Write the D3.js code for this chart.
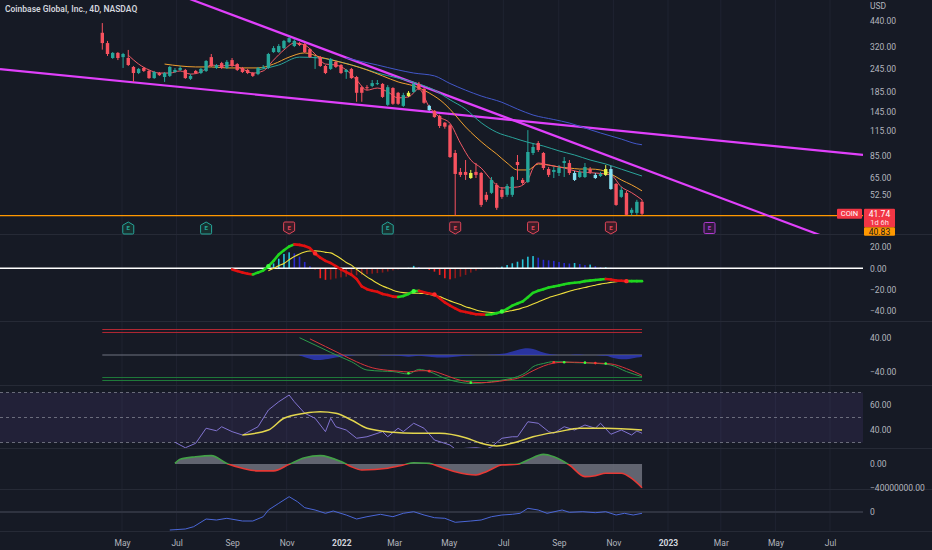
<!DOCTYPE html>
<html>
<head>
<meta charset="utf-8">
<script src="https://cdn.jsdelivr.net/npm/d3@7.9.0/dist/d3.min.js"></script>
<style>
  html, body { margin: 0; padding: 0; background: #161a25; }
  svg { display: block; font-family: Roboto, "Noto Sans", sans-serif; }
</style>
</head>
<body>
<div class="container"></div>
<script>
// ---------- data ----------
const chartTitle = "Coinbase Global, Inc., 4D, NASDAQ";
const firstBarDate = new Date(2021, 3, 9);
const lastBarDate = new Date(2022, 11, 3);

const barOpen = [381,336,280,298,283,280,251,233,248,239, 219,233,222,225,236,242,242,217,239,233,
  239,283,248,263,248,273,260,248,242,233, 230,248,248,301,301,316,340,324,336,332,
  312,280,283,254,245,267,257,236,245,222, 196,196,199,204,204,158,194,183,156,176,
  185,204,192,148,147,138,127,123,87.7,69.6, 69.6,64.6,69.6,68.7,52.6,53.9,59.4,55.9,52.6,52.6,
  78.6,63.1,61.6,87.7,99.1,87.7,72.1,69.6,68.7,77.6, 77.6,63.1,65.4,65.4,72.1,64.6,66.2,67.1,72.1,60.1,
  51.3,53.9,42.2,42.2,48.3];
const barHigh = [429,345,301,301,298,309,254,248,251,242, 239,236,236,254,248,254,245,230,242,248,
  273,294,260,267,273,280,263,251,245,236, 251,257,298,324,332,349,362,353,340,336,
  316,287,287,257,280,270,260,245,248,225, 199,201,214,214,206,201,196,185,183,187,
  209,209,194,158,148,140,128,125,91,73, 80.5,71.3,77.6,69.6,54.5,65.4,60.8,57.9,60.1,66.2,
  85.6,64.6,116,99.1,101.5,88.8,73.9,73.9,75.7,83.5, 80.5,70.4,71.3,77.6,73.9,68.7,69.6,75.7,74.8,60.8,
  57.9,55.2,44.9,49.5,49.5];
const barLow = [310,287,277,273,248,254,209,230,236,217, 217,225,209,222,233,239,217,214,230,230,
  236,251,245,245,245,251,239,233,230,222, 227,245,245,298,298,312,336,320,324,298,
  280,245,251,230,242,248,230,217,217,164, 164,189,196,201,172,156,158,158,154,174,
  183,189,160,147,135,119,118,82.5,40.83,65.4, 63.1,63.9,64.6,45.4,48.3,53.2,43.8,50.1,51.3,51.3,
  63.1,59.4,60.8,85.6,88.8,71.3,65.4,64.6,66.2,65.4, 67.1,62.3,64.6,64.6,67.9,63.9,65.4,66.2,55.9,46.0,
  50.7,40.9,40.9,41.2,40.9];
const barClose = [336,294,298,280,294,257,233,245,239,219, 236,227,233,251,242,248,219,225,233,245,
  270,254,257,248,267,254,242,236,233,225, 248,251,294,316,324,345,357,345,328,301,
  283,283,254,233,277,251,233,242,219,183, 183,194,206,206,174,196,160,160,178,183,
  204,192,162,156,136,122,121,83.5,67.9,67.1, 67.1,68.7,67.1,46.5,49.5,63.1,44.9,51.3,58.6,65.4,
  75.7,60.8,88.8,94.4,91,73,67.1,71.3,73,79.5, 68.7,68.7,69.6,73.9,69.6,67.1,67.9,72.1,56.5,46.5,
  55.9,41.2,43.8,48.3,41.74];
const yellowBars = [59, 71, 97];
const cyanBars = [63, 91, 95, 98];

// moving averages on the price pane: [bar index, price]
const maFast = [[5,290],[7,260],[9,242],[11,233],[13,233],[15,239],[17,230],[19,236],[21,257],[23,254],
  [25,257],[27,245],[29,233],[31,239],[33,273],[35,309],[37,336],[39,328],[41,294],[43,260],[45,257],
  [47,242],[49,214],[51,189],[53,194],[55,185],[57,172],[59,174],[61,192],[63,154],[65,136],[67,126],
  [69,99],[71,80.5],[73,73],[75,63],[77,57.2],[80,57.9],[82,63],[83,73],[84,77.6],[86,75.7],[89,73],
  [92,69.6],[95,68.7],[98,67],[100,58],[102,54],[104,49.5]];
const maMid = [[12,260],[15,254],[18,251],[21,251],[24,248],[27,248],[30,248],[33,260],[36,283],[39,298],
  [42,283],[45,270],[48,257],[51,242],[54,225],[57,209],[60,199],[63,182.5],[66,159.6],[68,139.5],
  [70,120.5],[72,106.6],[74,95.5],[76,86.6],[78,77.6],[80,71.3],[82,71.3],[84,76.7],[86,75.7],[88,73.9],
  [90,73],[92,72.1],[94,72.1],[96,71.3],[98,67.9],[100,63.1],[102,59.4],[104,55.2]];
const maSlow = [[30,242],[34,257],[38,283],[42,280],[46,266],[50,248],[53,233],[57,219],[61,204],[64,189],
  [67,168],[70,150],[73,127],[76,113],[79,106],[82,100],[85,95.5],[88,90],[91,85.6],[94,80.5],[97,76.7],
  [100,72],[104,66.2]];
const maLong = [[47,280],[50,268],[53,257],[57,242],[60,233],[64,225],[67,205],[70,189],[73,176],[77,163],
  [80,150],[83,139.5],[87,132],[90,126.5],[93,119],[96,112],[100,104],[103,98],[104,97]];

// drawn lines: [date, price]
const upperTrend = [[new Date(2021, 10, 2), 368], [new Date(2022, 9, 30), 83.5]];
const lowerTrend = [[new Date(2021, 4, 30), 204.4], [new Date(2023, 2, 14), 100.4]];
const supportPrice = 40.83;
const lastPrice = 41.74;
const countdown = "1d 6h";

// earnings flags: bar index and result
const earningsBars = [5, 20, 36, 55, 68, 83, 98, 117];
const earningsKind = ["beat", "beat", "miss", "beat", "miss", "miss", "miss", "next"];

// MACD pane
const macdStart = 25;
const macdLine = [-1,-2.5,-4,-5,-5.7,-4,-2,2,7,13, 17,20.5,22.5,22,21,19,14,10,7,5,
  2,-1,-3.5,-6,-10,-17,-19.5,-21,-22,-24, -25,-26.5,-26.8,-26,-24,-21.5,-21,-22.5,-23.5,-24.5,
  -28,-32,-35,-37.5,-40,-41,-42,-43,-43.2,-43.5, -43,-42,-40.5,-38,-35,-33,-31,-27,-23,-21,
  -19.5,-18,-17,-16,-15,-14,-13.5,-13,-12,-11.5, -11,-10.5,-10,-10.5,-11.5,-11.7,-12,-12,-12,-12];
const signalStart = 32;
const signalLine = [-2.3,0,2.5,4.6,8,11,13.5,15.3,16.2,16.4, 16,15,14.5,12,9,5.5,3,-1,-4.5,-8,
  -11,-14,-16.5,-18.5,-20.5,-22,-22.8,-23.2,-23.3,-23.4, -23.6,-24.5,-25.5,-26.5,-28.5,-30.5,-32.2,-34,-36,-37.4,
  -39,-40.2,-41,-41.4,-41.5,-41.2,-40.5,-39.5,-38.5,-37, -35.5,-33.5,-31.5,-29.5,-27.5,-26,-24.5,-23,-21.5,-20,
  -19,-18,-16.8,-15.8,-14.8,-14,-13.2,-12.6,-12,-11.8, -11.8,-12,-12];
const histStart = 33;
const macdHist = [4.6,9,13.5,15,14,11,6,2,-1,-9.3, -10.8,-10.5,-9.5,-8.5,-7.8,-7,-6.5,-6,-5.5,-5,
  -4.5,-4,-3,-2,-1,-0.3,0.5,2.3,1,-0.5, -1.5,-3.1,-6.2,-9.3,-10.3,-9.3,-7.8,-6.2,-4,-2.2,
  -1,-0.5,-0.2,0.5,1.6,3.1,4.7,6.2,8.4,10.9, 11.5,10,8,7.5,7,6,5,4.5,5,4,
  3,3.5,2,1,1,0.5,0,-0.2,-0.3,-0.2, -0.1,-0.1];
const macdCrosses = [[32, "up"], [41, "down"], [60, "up"], [64, "down"], [77, "up"], [101, "down"]];

// WaveTrend pane
const wtLevels = [60, 53, 0, -53, -60];
const wt1 = [[38,40.7],[41,23.5],[44,6],[46,-5],[48,-15.7],[51,-35.3],[54,-38],[56,-39],[59,-44.7],[61,-33.7],
  [63,-39],[66,-55],[68,-62],[71,-66.7],[73,-66],[75,-62.7],[78,-57],[80,-51],[82,-38],[83,-27.5],
  [85,-20],[87,-15.7],[89,-16],[91,-18],[93,-18.5],[95,-19.6],[98,-23.5],[101,-39],[104,-51]];
const wt2 = [[40,38],[43,20],[46,2],[49,-16],[52,-30],[55,-36],[57,-38],[59,-40],[61,-37],[63,-37],
  [66,-47],[68,-56],[70,-62],[73,-65],[75,-64],[78,-59],[80,-55],[83,-37],[85,-26],[87,-19],
  [89,-17],[91,-17],[93,-18],[95,-19],[98,-21],[101,-32],[104,-48]];
const wtDiffStart = 38;
const wtDiff = [-2,-5,-9,-12,-12,-10,-8,-6,-4,-2, -1,0,0,0,0,0,-1,-1,-1,-2,
  -3,-4,-3,-2,-3,-4,-5,-6,-6,-5, -4,-3,-2,-1,0,0,0,1,2,3,
  5,8,12,15,16,14,10,6,3,1, 0,0,0,1,1,0,0,0,-1,-2, -5,-8,-10,-10,-8,-6,-4];
const wtDots = [[59,-43,"up"],[63,-38,"down"],[71,-65,"up"],[87,-17,"down"],[89,-17,"up"],[93,-18,"up"],[95,-19,"down"],[97,-20,"up"]];

// RSI pane
const rsiBand = [70, 50, 30];
const rsi = [[14,30.2],[16,25.8],[18,29.4],[20,41.4],[22,39.4],[23,42.6],[25,38.7],[27,36],[30,42.6],[32,56],
  [34,62.6],[36,68],[37,62.6],[39,53.4],[41,49.4],[43,38.7],[44,49.4],[45,42.6],[47,40],[49,33.4],
  [51,34.6],[54,38.7],[55,34.6],[57,41.4],[58,38.7],[60,45.4],[62,41.4],[64,32],[67,28],[68,24.8],
  [72,25.8],[74,24.8],[75,26.6],[77,33.4],[79,34.6],[80,34.6],[82,46.6],[84,45.4],[86,38.7],[87,37.4],
  [89,42.6],[91,40],[93,44],[95,41.4],[96,45.4],[98,36.6],[100,40],[102,36],[103,39.2],[104,37.4]];
const rsiMa = [[27,36],[32,40],[35,49.4],[39,53.4],[42,54.6],[45,53.4],[48,48],[51,41.4],[56,38.2],[60,37.4],
  [65,37.4],[70,33.8],[73,29.4],[76,27.2],[80,30.6],[83,34.6],[88,38.7],[92,41.4],[97,41.4],[104,40]];

// money-flow pane (millions)
const flowMillions = [[14,1],[15,8],[18,12],[21,14],[24,1],[27,-7],[30,-11.5],[33,-11.5],[36,-0.5],[39,10.5],
  [42,14],[46,4],[48,-4.5],[50,-10],[55,-7],[58,-1.7],[60,2],[63,1],[65,-4.5],[68,-12.8],
  [72,-18.3],[74,-12.8],[77,-1.7],[80,-0.5],[82,6.7],[85,16],[87,12],[90,-1.7],[93,-21],[95,-19.5],
  [97,-15.5],[100,-15.5],[102,-24],[104,-39.5]];

// bottom oscillator pane
const lowerOsc = [[13,-18],[16,-17],[17.6,-14.7],[20,-7],[22,-8],[24,-6.3],[27,-9],[29,-9],[31,-4.7],[32,2],
  [34,8.7],[36,15.3],[37.6,10.3],[39,4.3],[41,2],[43,-1.3],[44.5,1],[47,-3],[49,-7],[51,-4.7],
  [53.6,-2.3],[56,-4.7],[58,-1.3],[60,0.3],[62,-3],[64,-5.7],[66,-6.3],[68,-10.3],[71,-9],[73,-8],
  [75,-4.7],[77,-3],[79,-2.3],[80.5,-1.3],[82,3.7],[84,2],[85.7,-1.3],[88.6,2],[90,-0.3],[92.6,0.3],
  [95,-0.7],[97,0.3],[99,-3],[100.6,-1.3],[102.3,-3],[104,-1.3]];

// axes
const monthTicks = ["2021-05-01","2021-07-01","2021-09-01","2021-11-01","2022-01-01","2022-03-01","2022-05-01",
  "2022-07-01","2022-09-01","2022-11-01","2023-01-01","2023-03-01","2023-05-01","2023-07-01"];
const priceTicks = [440, 320, 245, 185, 145, 115, 85, 65, 52.5];
const macdTicks = [20, 0, -20, -40];
const wtTicks = [40, -40];
const rsiTicks = [60, 40];
const flowTicks = [0, -40000000];
const oscTicks = [0];

// ---------- drawing ----------
const W = 932, H = 550, plotRight = 863;
const bg = "#161a25";
const green = "#26a69a", red = "#f7525f";

const svg = d3.select(".container").append("svg")
  .attr("width", W).attr("height", H);
svg.append("rect").attr("width", W).attr("height", H).attr("fill", bg);

const parseDay = d3.timeParse("%Y-%m-%d");
const tickDates = monthTicks.map(parseDay);

const xTime = d3.scaleTime()
  .domain([new Date(2021, 4, 1), new Date(2023, 6, 1)])
  .range([122, 830]);
const N = barClose.length;
const xBar = d3.scaleLinear().domain([0, N - 1]).range([xTime(firstBarDate), xTime(lastBarDate)]);

const yPrice = d3.scaleLog().domain([440, 52.5]).range([21, 195]);
const yMacd = d3.scaleLinear().domain([20, -40]).range([247, 311]);
const yWt = d3.scaleLinear().domain([40, -40]).range([338, 372]);
const yRsi = d3.scaleLinear().domain([60, 40]).range([405, 430]);
const yFlow = d3.scaleLinear().domain([0, -40000000]).range([464, 488]);
const yOsc = d3.scaleLinear().domain([0, -10]).range([512, 522]);

const paneBounds = [[0, 234], [235, 321], [322, 385], [386, 448], [449, 489], [490, 531]];
const defs = svg.append("defs");
paneBounds.forEach((p, k) => {
  defs.append("clipPath").attr("id", "clip" + k)
    .append("rect").attr("x", 0).attr("y", p[0]).attr("width", plotRight).attr("height", p[1] - p[0]);
});

// vertical grid
svg.append("g").selectAll("line").data(tickDates).join("line")
  .attr("x1", d => xTime(d)).attr("x2", d => xTime(d))
  .attr("y1", 0).attr("y2", 531)
  .attr("stroke", "#1f2331").attr("stroke-width", 1);

// pane separators
svg.append("g").selectAll("line").data(paneBounds).join("line")
  .attr("x1", 0).attr("x2", W)
  .attr("y1", d => d[1] + 0.5).attr("y2", d => d[1] + 0.5)
  .attr("stroke", "#262a36").attr("stroke-width", 1);

// ----- price pane -----
const gMain = svg.append("g").attr("clip-path", "url(#clip0)");

gMain.append("line")
  .attr("x1", 0).attr("x2", plotRight)
  .attr("y1", yPrice(supportPrice)).attr("y2", yPrice(supportPrice))
  .attr("stroke", "#ff9800").attr("stroke-width", 1.3);

function extended(a, b) {
  const x1 = xTime(a[0]), y1 = yPrice(a[1]), x2 = xTime(b[0]), y2 = yPrice(b[1]);
  const k = (y2 - y1) / (x2 - x1);
  return [[0, y1 - x1 * k], [plotRight, y1 + (plotRight - x1) * k]];
}
[upperTrend, lowerTrend].forEach(t => {
  gMain.append("path")
    .attr("d", d3.line()(extended(t[0], t[1])))
    .attr("stroke", "#e040fb").attr("stroke-width", 2.2).attr("fill", "none");
});

const maLine = d3.line().x(d => xBar(d[0])).y(d => yPrice(d[1])).curve(d3.curveMonotoneX);
[[maLong, "#4257c9"], [maSlow, "#2aa39a"], [maMid, "#f0a030"], [maFast, "#f25a67"]].forEach(([data, col]) => {
  gMain.append("path").datum(data).attr("d", maLine)
    .attr("fill", "none").attr("stroke", col).attr("stroke-width", 1);
});

const bars = barClose.map((c, i) => ({ i, o: barOpen[i], h: barHigh[i], l: barLow[i], c }));
const barColor = d => yellowBars.includes(d.i) ? "#e6f24a"
  : cyanBars.includes(d.i) ? "#86dff2"
  : (d.c >= d.o ? green : red);

const candle = gMain.append("g").selectAll("g").data(bars).join("g");
candle.append("line")
  .attr("x1", d => xBar(d.i)).attr("x2", d => xBar(d.i))
  .attr("y1", d => yPrice(d.h)).attr("y2", d => yPrice(d.l))
  .attr("stroke", barColor).attr("stroke-width", 1);
candle.append("rect")
  .attr("x", d => xBar(d.i) - 1.7).attr("width", 3.4)
  .attr("y", d => yPrice(Math.max(d.o, d.c)))
  .attr("height", d => Math.max(1, Math.abs(yPrice(d.o) - yPrice(d.c))))
  .attr("fill", barColor);

// earnings flags
const flagColor = { beat: "#26a69a", miss: "#e0465a", next: "#b03ad0" };
const flagFill = { beat: "#17302f", miss: "#3a1c27", next: "#2e1a3a" };
const flagShape = {
  beat: "M0,-6L5.5,-2.8L5.5,4.8Q5.5,6 4.3,6L-4.3,6Q-5.5,6 -5.5,4.8L-5.5,-2.8Z",
  miss: "M0,6L5.5,2.8L5.5,-4.8Q5.5,-6 4.3,-6L-4.3,-6Q-5.5,-6 -5.5,-4.8L-5.5,2.8Z",
  next: "M-4.3,-5.5H4.3Q5.5,-5.5 5.5,-4.3V4.3Q5.5,5.5 4.3,5.5H-4.3Q-5.5,5.5 -5.5,4.3V-4.3Q-5.5,-5.5 -4.3,-5.5Z"
};
const flags = svg.append("g").selectAll("g").data(earningsBars).join("g")
  .attr("transform", d => `translate(${xBar(d)},228)`);
flags.append("path")
  .attr("d", (d, k) => flagShape[earningsKind[k]])
  .attr("fill", (d, k) => flagFill[earningsKind[k]])
  .attr("stroke", (d, k) => flagColor[earningsKind[k]]).attr("stroke-width", 1);
flags.append("text").text("E")
  .attr("text-anchor", "middle").attr("dy", "0.35em")
  .attr("fill", (d, k) => flagColor[earningsKind[k]])
  .style("font-size", "6px").style("font-weight", "700");

// ----- MACD pane -----
const gMacd = svg.append("g").attr("clip-path", "url(#clip1)");
const histData = macdHist.map((v, k) => ({ i: histStart + k, v, prev: k ? macdHist[k - 1] : 0 }));
const histColor = d => d.v >= 0 ? (d.v >= d.prev ? "#26c6da" : "#2a2ad0") : (d.v <= d.prev ? "#f02020" : "#8c1a1a");
gMacd.append("g").selectAll("rect").data(histData).join("rect")
  .attr("x", d => xBar(d.i) - 0.8).attr("width", 1.6)
  .attr("y", d => Math.min(yMacd(0), yMacd(d.v)))
  .attr("height", d => Math.abs(yMacd(d.v) - yMacd(0)))
  .attr("fill", histColor);

gMacd.append("line")
  .attr("x1", 0).attr("x2", plotRight)
  .attr("y1", yMacd(0)).attr("y2", yMacd(0))
  .attr("stroke", "#ffffff").attr("stroke-width", 1.5);

gMacd.append("path")
  .datum(signalLine.map((v, k) => [signalStart + k, v]))
  .attr("d", d3.line().x(d => xBar(d[0])).y(d => yMacd(d[1])).curve(d3.curveMonotoneX))
  .attr("fill", "none").attr("stroke", "#eede3c").attr("stroke-width", 1.1);

const macdPts = macdLine.map((v, k) => [macdStart + k, v]);
gMacd.append("g").selectAll("line").data(d3.pairs(macdPts)).join("line")
  .attr("x1", d => xBar(d[0][0])).attr("y1", d => yMacd(d[0][1]))
  .attr("x2", d => xBar(d[1][0])).attr("y2", d => yMacd(d[1][1]))
  .attr("stroke", d => d[1][1] >= d[0][1] ? "#1fd61f" : "#e01010")
  .attr("stroke-width", 2.6).attr("stroke-linecap", "round");

gMacd.append("g").selectAll("circle").data(macdCrosses).join("circle")
  .attr("cx", d => xBar(d[0])).attr("cy", d => yMacd(macdLine[d[0] - macdStart]))
  .attr("r", 2.2)
  .attr("fill", d => d[1] === "up" ? "#3cff3c" : "#ff2a2a");

// ----- WaveTrend pane -----
const gWt = svg.append("g").attr("clip-path", "url(#clip2)");
const levelColor = v => v > 0 ? "#b22833" : v < 0 ? "#1f7a3a" : "#6f7280";
gWt.append("g").selectAll("line").data(wtLevels).join("line")
  .attr("x1", xBar(0)).attr("x2", xBar(N - 1))
  .attr("y1", d => yWt(d)).attr("y2", d => yWt(d))
  .attr("stroke", levelColor).attr("stroke-width", 1);

gWt.append("path")
  .datum(wtDiff.map((v, k) => [wtDiffStart + k, v]))
  .attr("d", d3.area().x(d => xBar(d[0])).y0(yWt(0)).y1(d => yWt(d[1])).curve(d3.curveMonotoneX))
  .attr("fill", "#2f3bbf").attr("opacity", 0.8);

const wtLine = d3.line().x(d => xBar(d[0])).y(d => yWt(d[1])).curve(d3.curveMonotoneX);
gWt.append("path").datum(wt1).attr("d", wtLine)
  .attr("fill", "none").attr("stroke", "#2c9a4a").attr("stroke-width", 1);
gWt.append("path").datum(wt2).attr("d", wtLine)
  .attr("fill", "none").attr("stroke", "#d8343a").attr("stroke-width", 1);
gWt.append("g").selectAll("circle").data(wtDots).join("circle")
  .attr("cx", d => xBar(d[0])).attr("cy", d => yWt(d[1])).attr("r", 1.3)
  .attr("fill", d => d[2] === "up" ? "#3cff3c" : "#ff3030");

// ----- RSI pane -----
const gRsi = svg.append("g").attr("clip-path", "url(#clip3)");
gRsi.append("rect")
  .attr("x", 0).attr("width", plotRight)
  .attr("y", yRsi(rsiBand[0])).attr("height", yRsi(rsiBand[2]) - yRsi(rsiBand[0]))
  .attr("fill", "#7e57c2").attr("opacity", 0.12);
gRsi.append("g").selectAll("line").data(rsiBand).join("line")
  .attr("x1", 0).attr("x2", plotRight)
  .attr("y1", d => yRsi(d)).attr("y2", d => yRsi(d))
  .attr("stroke", "#8a8d99").attr("stroke-width", 1).attr("stroke-dasharray", "3,3").attr("opacity", 0.7);
gRsi.append("path").datum(rsi)
  .attr("d", d3.line().x(d => xBar(d[0])).y(d => yRsi(d[1])))
  .attr("fill", "none").attr("stroke", "#8173d0").attr("stroke-width", 1);
gRsi.append("path").datum(rsiMa)
  .attr("d", d3.line().x(d => xBar(d[0])).y(d => yRsi(d[1])).curve(d3.curveMonotoneX))
  .attr("fill", "none").attr("stroke", "#e3d64e").attr("stroke-width", 1.5);

// ----- money flow pane -----
const gFlow = svg.append("g").attr("clip-path", "url(#clip4)");
const flowPts = flowMillions.map(d => [d[0], d[1] * 1e6]);
gFlow.append("path").datum(flowPts)
  .attr("d", d3.area().x(d => xBar(d[0])).y0(yFlow(0)).y1(d => yFlow(d[1])).curve(d3.curveMonotoneX))
  .attr("fill", "#7b7e8a").attr("opacity", 0.75);
defs.append("clipPath").attr("id", "flowUp").append("rect")
  .attr("x", 0).attr("y", paneBounds[4][0]).attr("width", plotRight).attr("height", yFlow(0) - paneBounds[4][0]);
defs.append("clipPath").attr("id", "flowDown").append("rect")
  .attr("x", 0).attr("y", yFlow(0)).attr("width", plotRight).attr("height", paneBounds[4][1] - yFlow(0));
const flowLine = d3.line().x(d => xBar(d[0])).y(d => yFlow(d[1])).curve(d3.curveMonotoneX);
gFlow.append("path").datum(flowPts).attr("d", flowLine).attr("clip-path", "url(#flowUp)")
  .attr("fill", "none").attr("stroke", "#43a047").attr("stroke-width", 1.6);
gFlow.append("path").datum(flowPts).attr("d", flowLine).attr("clip-path", "url(#flowDown)")
  .attr("fill", "none").attr("stroke", "#e53935").attr("stroke-width", 1.6);

// ----- bottom oscillator pane -----
const gOsc = svg.append("g").attr("clip-path", "url(#clip5)");
gOsc.append("line")
  .attr("x1", 0).attr("x2", plotRight)
  .attr("y1", yOsc(0)).attr("y2", yOsc(0))
  .attr("stroke", "#2f3340").attr("stroke-width", 2);
gOsc.append("path").datum(lowerOsc)
  .attr("d", d3.line().x(d => xBar(d[0])).y(d => yOsc(d[1])))
  .attr("fill", "none").attr("stroke", "#4a66d6").attr("stroke-width", 1);

// ----- axes -----
const minus = d => (d < 0 ? "\u2212" : "") + Math.abs(d).toFixed(2);
function rightAxis(scale, ticks, fmt) {
  const g = svg.append("g").attr("transform", `translate(${plotRight},0)`)
    .call(d3.axisRight(scale).tickValues(ticks).tickSize(0).tickPadding(7).tickFormat(fmt));
  g.select(".domain").remove();
  g.selectAll("text").attr("fill", "#b2b5be")
    .style("font-size", "8.5px").style("font-family", "Roboto, 'Noto Sans', sans-serif");
}
rightAxis(yPrice, priceTicks, d => d.toFixed(2));
rightAxis(yMacd, macdTicks, minus);
rightAxis(yWt, wtTicks, minus);
rightAxis(yRsi, rsiTicks, minus);
rightAxis(yFlow, flowTicks, minus);
rightAxis(yOsc, oscTicks, d => String(d));

const xa = svg.append("g").attr("transform", "translate(0,532)")
  .call(d3.axisBottom(xTime).tickValues(tickDates).tickSize(0).tickPadding(8)
    .tickFormat(d => d.getMonth() === 0 ? d3.timeFormat("%Y")(d) : d3.timeFormat("%b")(d)));
xa.select(".domain").remove();
xa.selectAll("text")
  .attr("fill", d => d.getMonth() === 0 ? "#d1d4dc" : "#b2b5be")
  .style("font-weight", d => d.getMonth() === 0 ? "700" : "400")
  .style("font-size", "8.5px").style("font-family", "Roboto, 'Noto Sans', sans-serif");

svg.append("text").text("USD").attr("x", plotRight + 7).attr("y", 9)
  .attr("fill", "#b2b5be").style("font-size", "8.5px");
svg.append("text").text(chartTitle).attr("x", 5).attr("y", 12)
  .attr("fill", "#d1d4dc").style("font-size", "8.5px").style("font-weight", "600");

// last price labels
const yLast = yPrice(lastPrice);
svg.append("rect").attr("x", 837).attr("y", yLast - 5).attr("width", 25).attr("height", 10)
  .attr("fill", "#f23645").attr("rx", 1);
svg.append("text").text("COIN").attr("x", 849.5).attr("y", yLast).attr("dy", "0.35em")
  .attr("text-anchor", "middle").attr("fill", "#ffffff").style("font-size", "7.5px");
svg.append("rect").attr("x", plotRight + 1).attr("y", yLast - 5).attr("width", 31).attr("height", 18.5)
  .attr("fill", "#f23645").attr("rx", 1);
svg.append("text").text(lastPrice.toFixed(2)).attr("x", plotRight + 16.5).attr("y", yLast).attr("dy", "0.35em")
  .attr("text-anchor", "middle").attr("fill", "#ffffff").style("font-size", "8.5px");
svg.append("text").text(countdown).attr("x", plotRight + 16.5).attr("y", yLast + 8.5).attr("dy", "0.35em")
  .attr("text-anchor", "middle").attr("fill", "#ffe0e3").style("font-size", "7.5px");
svg.append("rect").attr("x", plotRight + 1).attr("y", yLast + 13.5).attr("width", 31).attr("height", 8.5)
  .attr("fill", "#ff9800").attr("rx", 1);
svg.append("text").text(supportPrice.toFixed(2)).attr("x", plotRight + 16.5).attr("y", yLast + 17.8).attr("dy", "0.35em")
  .attr("text-anchor", "middle").attr("fill", "#131722").style("font-size", "8.5px");
</script>
</body>
</html>
